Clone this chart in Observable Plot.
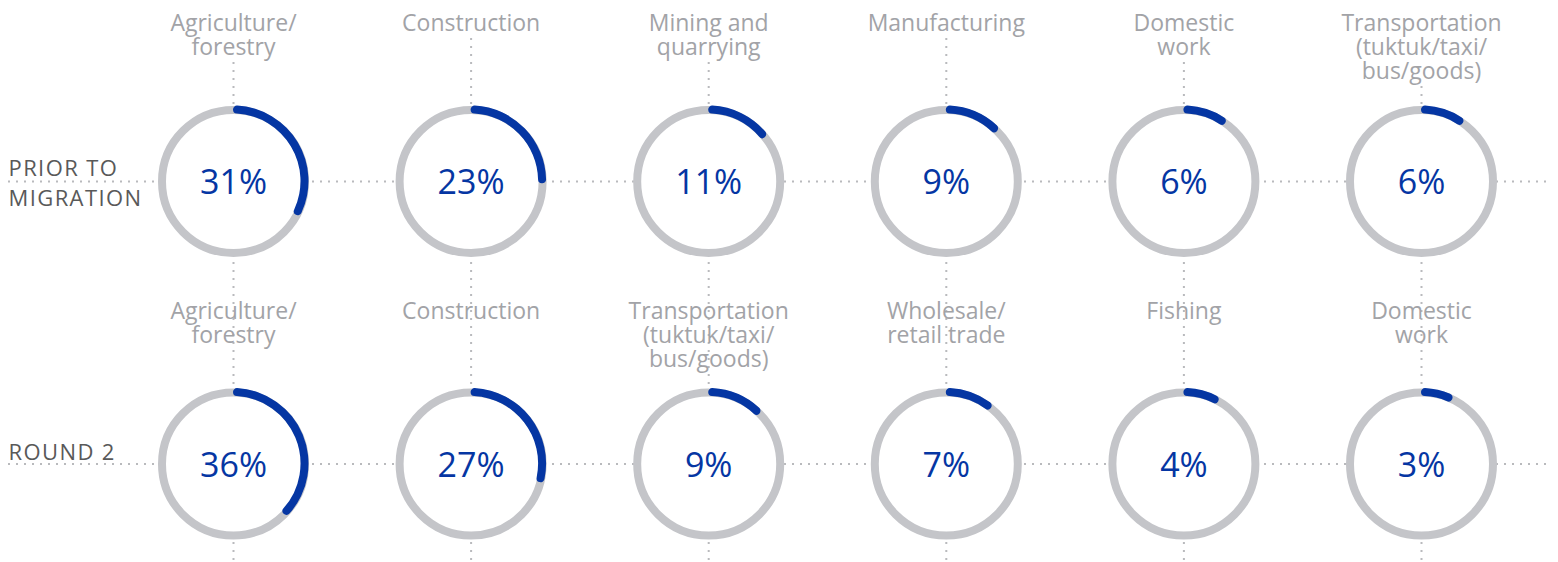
<!DOCTYPE html>
<html>
<head>
<meta charset="utf-8">
<script src="https://cdn.jsdelivr.net/npm/d3@7"></script>
<script src="https://cdn.jsdelivr.net/npm/@observablehq/plot@0.6"></script>
<style>
  html, body { margin: 0; padding: 0; background: #fff; }
  #chart svg { display: block; }
</style>
</head>
<body>
<div id="chart"></div>
<script>
// ---- data ----
const rowLabels = ["PRIOR TO\nMIGRATION", "ROUND 2"];
const priorCategories = ["Agriculture/\nforestry", "Construction", "Mining and\nquarrying", "Manufacturing", "Domestic\nwork", "Transportation\n(tuktuk/taxi/\nbus/goods)"];
const priorValues = [31, 23, 11, 9, 6, 6];
const round2Categories = ["Agriculture/\nforestry", "Construction", "Transportation\n(tuktuk/taxi/\nbus/goods)", "Wholesale/\nretail trade", "Fishing", "Domestic\nwork"];
const round2Values = [36, 27, 9, 7, 4, 3];
const columns = [0, 1, 2, 3, 4, 5];

// ---- table built from the arrays ----
const priorCells = priorValues.map((v, i) => ({row: 0, col: i, category: priorCategories[i], value: v}));
const round2Cells = round2Values.map((v, i) => ({row: 1, col: i, category: round2Categories[i], value: v}));
const cells = [...priorCells, ...round2Cells];
const rowsTable = rowLabels.map((label, i) => ({row: i, label}));

// ---- styles ----
const blue = "#0536a3";
const ringGray = "#c4c5c9";
const dotGray = "#b9babd";
const labelGray = "#a2a3a7";
const rowGray = "#595959";
const R = 71.5, W = 8;
const font = "'Open Sans', 'Noto Sans', sans-serif";

// angular scale of the gauge arcs (degrees, clockwise from 12 o'clock)
const angle = d3.scaleLinear().domain([0, 100]).range([16, 346]);

function arcsMark(index, scales) {
  const g = d3.create("svg:g").attr("aria-label", "arcs");
  const arc = d3.arc().innerRadius(R - W / 2).outerRadius(R + W / 2).cornerRadius(W / 2);
  g.selectAll("path").data(cells).join("path")
    .attr("transform", d => `translate(${scales.x(d.col)},${scales.y(d.row)})`)
    .attr("d", d => arc({startAngle: 0, endAngle: angle(d.value) * Math.PI / 180}))
    .attr("fill", blue);
  return g.node();
}

const chart = Plot.plot({
  width: 1558,
  height: 562,
  margin: 0,
  x: {domain: [0, 5], range: [233, 1421], axis: null},
  y: {domain: [0, 1], range: [181, 463.5], axis: null},
  style: {fontFamily: font, background: "#fff", overflow: "visible"},
  marks: [
    Plot.ruleY([0, 1], {y: d => d, stroke: dotGray, strokeWidth: 2, strokeDasharray: "2,6", insetLeft: 8, insetRight: 8}),
    ...columns.map(c => Plot.ruleX([c], {
      x: d => d, stroke: dotGray, strokeWidth: 2, strokeDasharray: "2,6",
      insetTop: 14 + 24 * priorCategories[c].split("\n").length
    })),
    Plot.dot(cells, {x: "col", y: "row", r: R, stroke: ringGray, strokeWidth: W, fill: "white"}),
    arcsMark,
    Plot.text(cells, {x: "col", y: "row", text: d => d.value + "%", fill: blue, fontSize: 34, dy: 2}),
    Plot.text(priorCells, {x: "col", y: "row", text: "category", lineAnchor: "top", dy: -168, fontSize: 23, lineHeight: 1.05, fill: labelGray}),
    Plot.text(round2Cells, {x: "col", y: "row", text: "category", lineAnchor: "top", dy: -162.5, fontSize: 23, lineHeight: 1.05, fill: labelGray}),
    Plot.text(rowsTable.slice(0, 1), {y: "row", text: "label", frameAnchor: "left", textAnchor: "start", dx: 8, dy: 0, fontSize: 22, lineHeight: 1.36, fill: rowGray}),
    Plot.text(rowsTable.slice(1), {y: "row", text: "label", frameAnchor: "left", textAnchor: "start", dx: 8, dy: -14, fontSize: 22, lineHeight: 1.36, fill: rowGray})
  ]
});

const rowTexts = new Set(rowLabels.map(l => l.replace(/\n/g, "")));
d3.select(chart).selectAll("text")
  .filter(function () { return rowTexts.has(this.textContent); })
  .style("letter-spacing", "1.4px");
document.getElementById("chart").appendChild(chart);
</script>
</body>
</html>
